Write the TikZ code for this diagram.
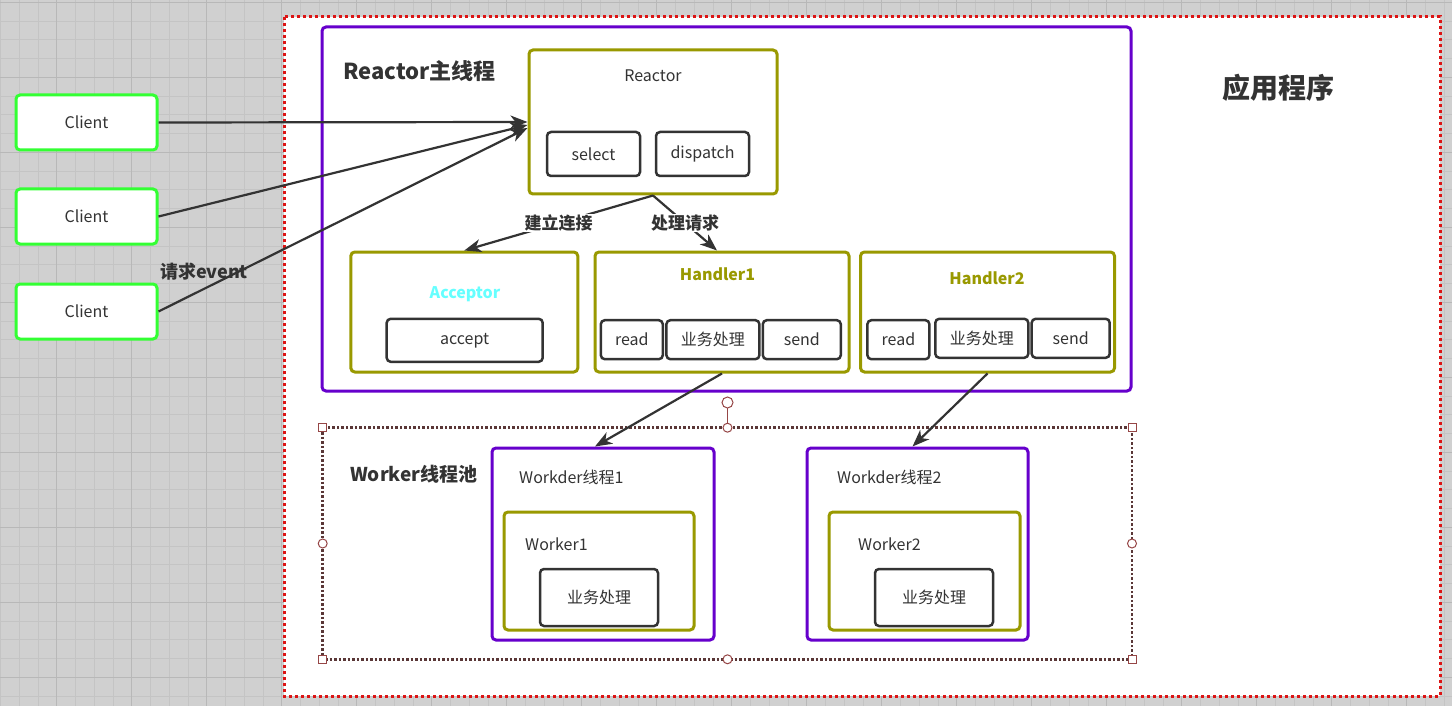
\documentclass[tikz,border=0pt]{standalone}
\usepackage{fontspec}
\setmainfont{Noto Sans CJK SC}
\usetikzlibrary{positioning, arrows.meta, calc}

\definecolor{purp}{RGB}{102,0,204}
\definecolor{oliv}{RGB}{153,153,0}
\definecolor{cgreen}{RGB}{51,255,51}
\definecolor{dark}{RGB}{51,51,51}
\definecolor{acyan}{RGB}{102,255,255}
\definecolor{gridbg}{RGB}{208,208,208}
\definecolor{handle}{RGB}{150,70,70}

\newcommand\sz[1]{\fontsize{#1}{#1}\selectfont}

\tikzset{
    gridminor/.style={draw={rgb,255:red,196;green,196;blue,196}, line width=0.8pt},
    gridmajor/.style={draw={rgb,255:red,184;green,184;blue,184}, line width=1pt},
    appbox/.style={draw={rgb,255:red,220;green,20;blue,20}, fill=white, line width=3pt, dash pattern=on 3pt off 3pt},
    poolbox/.style={draw={rgb,255:red,90;green,55;blue,55}, line width=2.5pt, dash pattern=on 2.5pt off 2pt},
    thread/.style={draw=purp, line width=3pt, rounded corners=4pt, fill=white, inner sep=0pt},
    unit/.style={draw=oliv, line width=3pt, rounded corners=4pt, fill=white, inner sep=0pt},
    op/.style={draw=dark, line width=2.5pt, rounded corners=4pt, fill=white, inner sep=0pt, text=dark, font=\sz{16}},
    client/.style={draw=cgreen, line width=3pt, rounded corners=4pt, fill=white, inner sep=0pt, text=dark, font=\sz{16},
        minimum width=141pt, minimum height=55pt},
    txt/.style={text=dark, font=\sz{16}, inner sep=0pt},
    title/.style={text=dark, font=\sz{17}\bfseries, inner sep=1pt},
    flow/.style={draw=dark, line width=2.2pt, -{Stealth[length=17pt, width=13pt, inset=5pt]}},
    sqhandle/.style={draw=handle, fill=white, line width=1pt, minimum size=8pt, inner sep=0pt},
    cchandle/.style={draw=handle, fill=white, line width=1pt, circle, minimum size=9pt, inner sep=0pt},
}

\begin{document}
\begin{tikzpicture}[x=1pt, y=-1pt]
    \useasboundingbox (0,0) rectangle (1452,706);

    % grid background
    \fill[gridbg] (0,0) rectangle (1452,706);
    \foreach \k in {0,...,77} \draw[gridminor] ({0.4+18.75*\k},0) -- ++(0,706);
    \foreach \k in {0,...,37} \draw[gridminor] (0,{2.3+18.75*\k}) -- ++(1452,0);
    \foreach \k in {0,...,18} \draw[gridmajor] ({56.65+75*\k},0) -- ++(0,706);
    \foreach \k in {0,...,9} \draw[gridmajor] (0,{2.3+75*\k}) -- ++(1452,0);

    % application
    \draw[appbox] (284,17) rectangle (1440,696);
    \node[title, font=\sz{28}\bfseries] (apptitle) at (1278,88) {应用程序};

    % clients
    \node[client] (c1) at (86.5,122.5) {Client};
    \node[client] (c2) at (86.5,216.5) {Client};
    \node[client] (c3) at (86.5,311.5) {Client};
    \node[title, font=\sz{18}\bfseries] (evt) at (204,272) {请求event};

    % reactor main thread
    \node[thread, minimum width=809pt, minimum height=364pt] (main) at (726.5,209) {};
    \node[title, font=\sz{22}\bfseries, anchor=west] (maintitle) at (342,71) {Reactor主线程};

    \node[unit, minimum width=248pt, minimum height=144pt] (reactor) at (653,122) {};
    \node[txt] (reactortxt) at (653,76) {Reactor};
    \node[op, minimum width=93pt, minimum height=44pt] (select) at (593.5,154) {select};
    \node[op, minimum width=93pt, minimum height=44pt] (dispatch) at (702.5,154) {dispatch};

    \node[unit, minimum width=227pt, minimum height=120pt] (acceptor) at (464.3,312) {};
    \node[title, text=acyan, font=\sz{16}\bfseries] (acctxt) at (465,294) {Acceptor};
    \node[op, minimum width=156pt, minimum height=43pt] (accept) at (464.7,340.3) {accept};

    \node[unit, minimum width=254pt, minimum height=120pt] (h1) at (722,312) {};
    \node[title, text=oliv, font=\sz{16}\bfseries] (h1txt) at (717.5,274) {Handler1};
    \node[op, minimum width=62pt, minimum height=39pt] (h1read) at (631.8,339.7) {read};
    \node[op, minimum width=93pt, minimum height=39pt] (h1biz) at (712.9,339.7) {业务处理};
    \node[op, minimum width=78pt, minimum height=39pt] (h1send) at (801.8,339.7) {send};

    \node[unit, minimum width=254pt, minimum height=120pt] (h2) at (987.5,312) {};
    \node[title, text=oliv, font=\sz{16}\bfseries] (h2txt) at (987,278.3) {Handler2};
    \node[op, minimum width=62pt, minimum height=39pt] (h2read) at (898.4,339.7) {read};
    \node[op, minimum width=93pt, minimum height=39pt] (h2biz) at (981.8,338.3) {业务处理};
    \node[op, minimum width=78pt, minimum height=39pt] (h2send) at (1070.7,338.3) {send};

    % worker pool
    \draw[poolbox] (322.7,427.7) rectangle (1132,659.3);
    \node[title, font=\sz{19}\bfseries, anchor=west] (pooltitle) at (349,474) {Worker线程池};

    \node[thread, minimum width=222pt, minimum height=192pt] (wt1) at (603,544) {};
    \node[txt, anchor=west] (wt1txt) at (519,477) {Workder线程1};
    \node[unit, minimum width=190pt, minimum height=118pt] (w1) at (599,571) {};
    \node[txt, anchor=west] (w1txt) at (525,544) {Worker1};
    \node[op, minimum width=118pt, minimum height=57pt] (biz1) at (599,597.5) {业务处理};

    \node[thread, minimum width=221pt, minimum height=192pt] (wt2) at (917.5,544) {};
    \node[txt, anchor=west] (wt2txt) at (837,477) {Workder线程2};
    \node[unit, minimum width=191pt, minimum height=118pt] (w2) at (924.5,571) {};
    \node[txt, anchor=west] (w2txt) at (858,544) {Worker2};
    \node[op, minimum width=118pt, minimum height=57pt] (biz2) at (934,597.5) {业务处理};

    % selection handles of the pool
    \coordinate (rot) at (727.5,402.5);
    \node[cchandle] (ntop) at (727.5,427.7) {};
    \draw[handle, line width=1pt] (ntop) -- (rot);
    \node[cchandle, minimum size=11pt] (nrot) at (rot) {};
    \node[cchandle] (nbot) at (727.5,659.3) {};
    \node[cchandle] (nleft) at (322.7,543.5) {};
    \node[cchandle] (nright) at (1132,543.5) {};
    \node[sqhandle] (nw) at (322.7,427.7) {};
    \node[sqhandle] (ne) at (1132,427.7) {};
    \node[sqhandle] (sw) at (322.7,659.3) {};
    \node[sqhandle] (se) at (1132,659.3) {};

    % connectors
    \path
        (c1.east) edge[flow] (reactor.west)
        (c2.east) edge[flow] ([yshift=-3pt]reactor.west)
        (c3.east) edge[flow] ([yshift=-6pt]reactor.west)
        (reactor.south) edge[flow] node[title, fill=white] {建立连接} (acceptor.north)
        (reactor.south) edge[flow] node[title, fill=white] {处理请求} ([xshift=-5pt]h1.north)
        (h1.south) edge[flow] ([xshift=-8pt]wt1.north)
        (h2.south) edge[flow] ([xshift=-5pt]wt2.north)
        ;
\end{tikzpicture}
\end{document}
